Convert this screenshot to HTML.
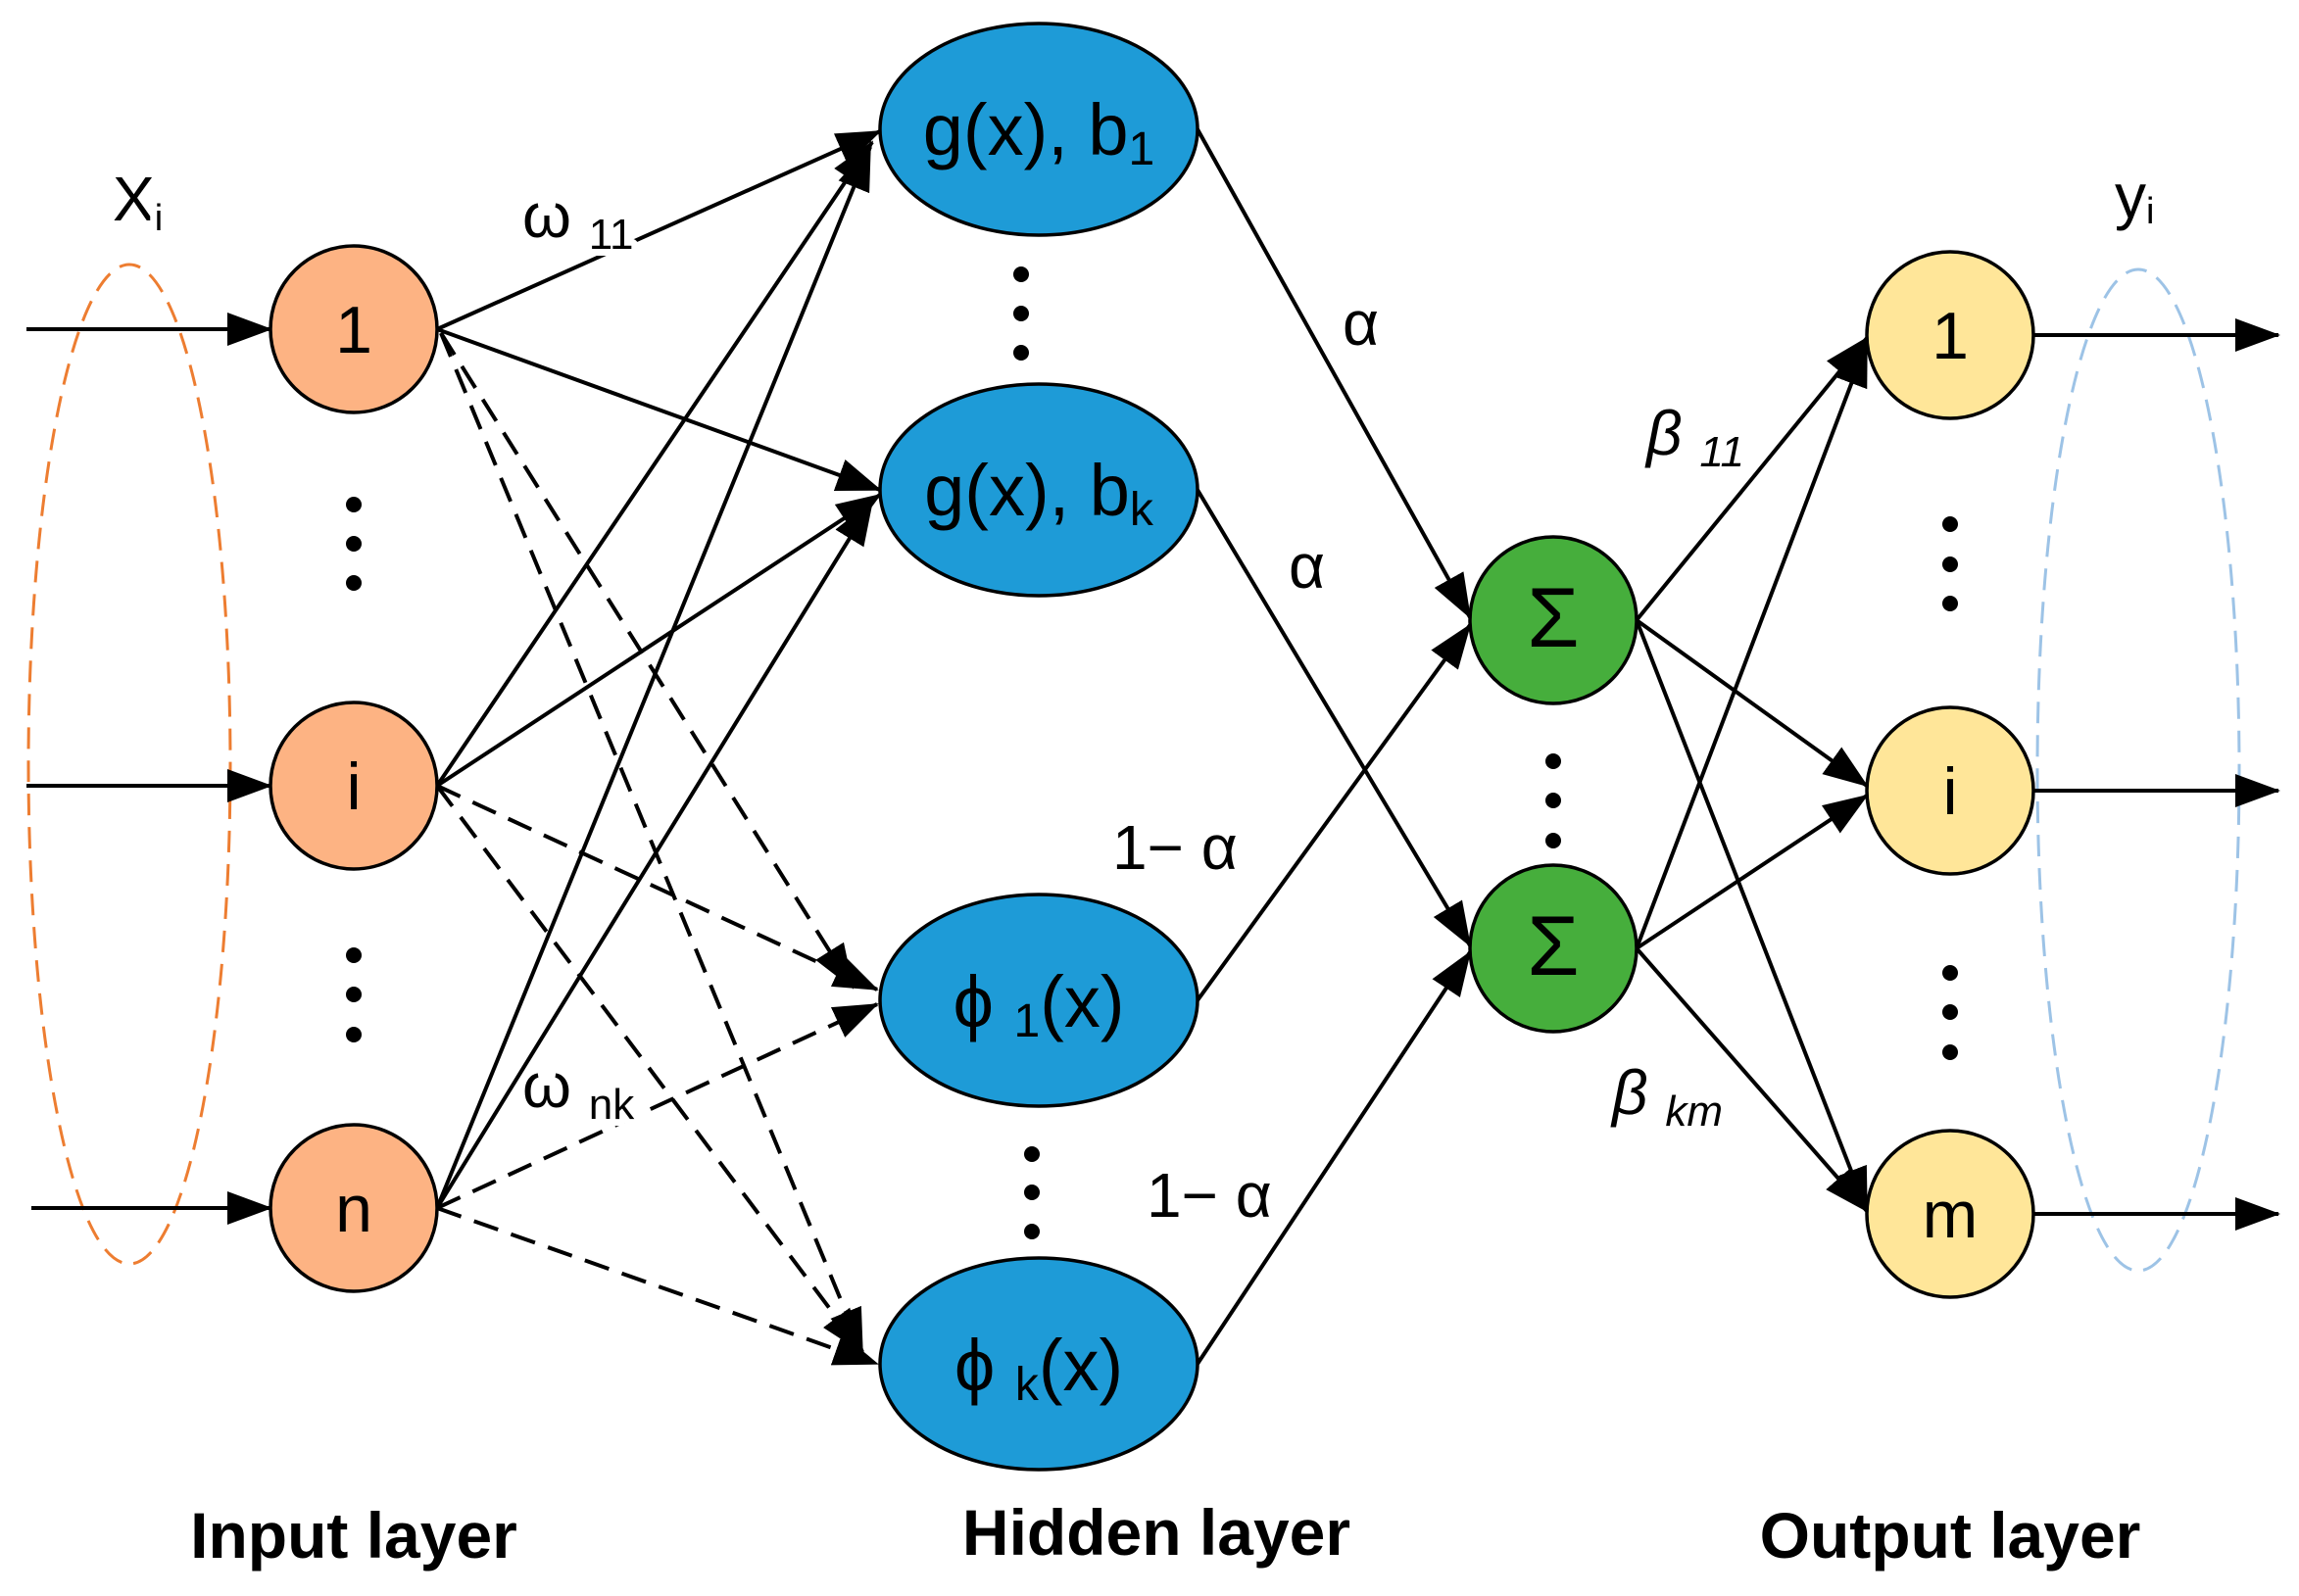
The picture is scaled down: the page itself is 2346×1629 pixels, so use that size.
<!DOCTYPE html>
<html><head><meta charset="utf-8"><style>
html,body{margin:0;padding:0;background:#fff}
svg{display:block}
text{font-family:"Liberation Sans","DejaVu Sans",sans-serif;fill:#000}
.lbl{paint-order:stroke;stroke:#fff;stroke-width:14px;stroke-linejoin:round}
</style></head><body>
<svg width="2346" height="1629" viewBox="0 0 2346 1629" xmlns="http://www.w3.org/2000/svg">
<defs>
<marker id="a" markerUnits="userSpaceOnUse" markerWidth="46" markerHeight="34" refX="44" refY="17" orient="auto">
<path d="M0,0 L46,17 L0,34 z" fill="#000"/></marker>
</defs>
<ellipse cx="132" cy="780" rx="103" ry="510" fill="none" stroke="#ED7D31" stroke-width="3" stroke-dasharray="22,12"/>
<ellipse cx="2182" cy="786" rx="103" ry="511" fill="none" stroke="#9DC3E6" stroke-width="3" stroke-dasharray="22,12"/>
<g stroke="#000" stroke-width="4" fill="none">
<line x1="27" y1="336" x2="276" y2="336" marker-end="url(#a)"/>
<line x1="27" y1="802" x2="276" y2="802" marker-end="url(#a)"/>
<line x1="32" y1="1233" x2="276" y2="1233" marker-end="url(#a)"/>
<line x1="2076" y1="342" x2="2325" y2="342" marker-end="url(#a)"/>
<line x1="2076" y1="807" x2="2325" y2="807" marker-end="url(#a)"/>
<line x1="2076" y1="1239" x2="2325" y2="1239" marker-end="url(#a)"/>
<line x1="446" y1="336" x2="898" y2="134" marker-end="url(#a)"/>
<line x1="446" y1="336" x2="898" y2="500" marker-end="url(#a)"/>
<line x1="446" y1="802" x2="890" y2="145" marker-end="url(#a)"/>
<line x1="446" y1="802" x2="898" y2="505" marker-end="url(#a)"/>
<line x1="446" y1="1233" x2="888" y2="150" marker-end="url(#a)"/>
<line x1="446" y1="1233" x2="890" y2="512" marker-end="url(#a)"/>
<g stroke-dasharray="26,14">
<line x1="450" y1="340" x2="870" y2="1008" marker-end="url(#a)"/>
<line x1="450" y1="340" x2="880" y2="1380" marker-end="url(#a)"/>
<line x1="446" y1="802" x2="895" y2="1010" marker-end="url(#a)"/>
<line x1="446" y1="802" x2="880" y2="1380" marker-end="url(#a)"/>
<line x1="446" y1="1233" x2="895" y2="1025" marker-end="url(#a)"/>
<line x1="446" y1="1233" x2="895" y2="1392" marker-end="url(#a)"/>
</g>
<line x1="1222" y1="132" x2="1500" y2="630" marker-end="url(#a)"/>
<line x1="1222" y1="500" x2="1500" y2="965" marker-end="url(#a)"/>
<line x1="1222" y1="1021" x2="1500" y2="638" marker-end="url(#a)"/>
<line x1="1222" y1="1392" x2="1500" y2="972" marker-end="url(#a)"/>
<line x1="1670" y1="633" x2="1905" y2="345" marker-end="url(#a)"/>
<line x1="1670" y1="633" x2="1905" y2="802" marker-end="url(#a)"/>
<line x1="1670" y1="633" x2="1905" y2="1236" marker-end="url(#a)"/>
<line x1="1670" y1="968" x2="1905" y2="350" marker-end="url(#a)"/>
<line x1="1670" y1="968" x2="1905" y2="812" marker-end="url(#a)"/>
<line x1="1670" y1="968" x2="1905" y2="1236" marker-end="url(#a)"/>
</g>
<g stroke="#000" stroke-width="3.5">
<circle cx="361" cy="336" r="85" fill="#FDB383"/>
<circle cx="361" cy="802" r="85" fill="#FDB383"/>
<circle cx="361" cy="1233" r="85" fill="#FDB383"/>
<ellipse cx="1060" cy="132" rx="162" ry="108" fill="#1E9BD7"/>
<ellipse cx="1060" cy="500" rx="162" ry="108" fill="#1E9BD7"/>
<ellipse cx="1060" cy="1021" rx="162" ry="108" fill="#1E9BD7"/>
<ellipse cx="1060" cy="1392" rx="162" ry="108" fill="#1E9BD7"/>
<circle cx="1585" cy="633" r="85" fill="#46AE3C"/>
<circle cx="1585" cy="968" r="85" fill="#46AE3C"/>
<circle cx="1990" cy="342" r="85" fill="#FFE699"/>
<circle cx="1990" cy="807" r="85" fill="#FFE699"/>
<circle cx="1990" cy="1239" r="85" fill="#FFE699"/>
</g>
<g fill="#000">
<circle cx="361" cy="515" r="8"/><circle cx="361" cy="555" r="8"/><circle cx="361" cy="595" r="8"/>
<circle cx="361" cy="975" r="8"/><circle cx="361" cy="1015" r="8"/><circle cx="361" cy="1056" r="8"/>
<circle cx="1042" cy="280" r="8"/><circle cx="1042" cy="320" r="8"/><circle cx="1042" cy="360" r="8"/>
<circle cx="1053" cy="1178" r="8"/><circle cx="1053" cy="1217" r="8"/><circle cx="1053" cy="1257" r="8"/>
<circle cx="1585" cy="777" r="8"/><circle cx="1585" cy="817" r="8"/><circle cx="1585" cy="858" r="8"/>
<circle cx="1990" cy="535" r="8"/><circle cx="1990" cy="576" r="8"/><circle cx="1990" cy="616" r="8"/>
<circle cx="1990" cy="993" r="8"/><circle cx="1990" cy="1033" r="8"/><circle cx="1990" cy="1074" r="8"/>
</g>
<g font-size="68" text-anchor="middle">
<text x="361" y="360">1</text>
<text x="361" y="826">i</text>
<text x="361" y="1257">n</text>
<text x="1990" y="366">1</text>
<text x="1990" y="831">i</text>
<text x="1990" y="1263">m</text>
</g>
<g font-size="74" text-anchor="middle">
<text x="1060" y="158">g(x), b<tspan font-size="48" dy="10">1</tspan></text>
<text x="1060" y="526">g(x), b<tspan font-size="48" dy="10">k</tspan></text>
<text x="1060" y="1048">ϕ <tspan font-size="48" dy="10">1</tspan><tspan dy="-10">(x)</tspan></text>
<text x="1060" y="1419">ϕ <tspan font-size="48" dy="10">k</tspan><tspan dy="-10">(x)</tspan></text>
<text x="1585" y="660" font-family="Liberation Serif,serif" font-size="86">Σ</text>
<text x="1585" y="995" font-family="Liberation Serif,serif" font-size="86">Σ</text>
</g>
<g font-size="64">
<text class="lbl" x="115" y="225">X<tspan font-size="38" dy="10">i</tspan></text>
<text class="lbl" x="2158" y="222">y<tspan font-size="38" dy="6">i</tspan></text>
<text class="lbl" x="533" y="242">ω <tspan font-size="44" dy="12">11</tspan></text>
<text class="lbl" x="533" y="1130">ω <tspan font-size="44" dy="12">nk</tspan></text>
<text class="lbl" x="1370" y="352">α</text>
<text class="lbl" x="1315" y="600">α</text>
<text class="lbl" x="1135" y="887">1− α</text>
<text class="lbl" x="1170" y="1242">1− α</text>
<text class="lbl" x="1680" y="464" font-style="italic">β <tspan font-size="44" dy="12">11</tspan></text>
<text class="lbl" x="1645" y="1137" font-style="italic">β <tspan font-size="44" dy="12">km</tspan></text>
</g>
<g font-size="66" font-weight="bold" text-anchor="middle">
<text x="361" y="1590">Input layer</text>
<text x="1180" y="1587">Hidden layer</text>
<text x="1990" y="1590">Output layer</text>
</g>
</svg>
</body></html>
